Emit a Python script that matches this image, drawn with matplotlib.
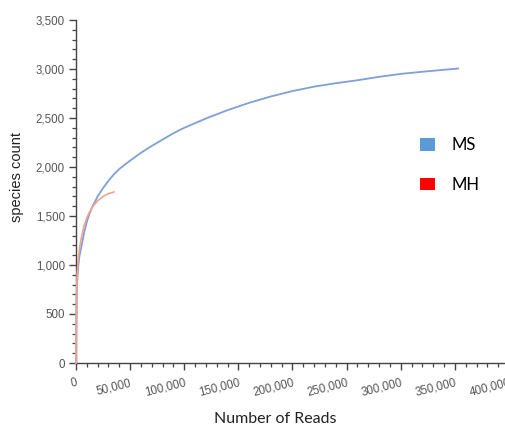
import matplotlib
matplotlib.use("Agg")
import matplotlib.pyplot as plt
from matplotlib.patches import Patch
from matplotlib.ticker import MultipleLocator, FuncFormatter

# rarefaction curves
ms_reads = [0, 200, 500, 1000, 2000, 3000, 5000, 7500, 10000, 12500, 15000, 20000,
            25000, 30000, 35000, 40000, 50000, 60000, 70000, 80000, 90000, 100000,
            120000, 140000, 160000, 180000, 200000, 220000, 240000, 260000, 280000,
            300000, 320000, 340000, 353000]
ms_species = [0, 350, 600, 800, 980, 1080, 1190, 1330, 1440, 1525, 1590, 1700,
              1785, 1860, 1925, 1980, 2065, 2145, 2215, 2280, 2345, 2400,
              2495, 2580, 2655, 2720, 2775, 2820, 2855, 2885, 2920,
              2950, 2972, 2992, 3005]
mh_reads = [0, 200, 500, 1000, 2000, 3700, 5000, 7500, 10000, 12000, 15000, 20000,
            25000, 30000, 35000]
mh_species = [0, 400, 700, 900, 1060, 1200, 1280, 1400, 1480, 1530, 1590, 1655,
              1700, 1728, 1745]

legend_names = ["MS", "MH"]
legend_colors = ["#5b9bd5", "#ff0000"]

fig = plt.figure(figsize=(5.06, 4.28), dpi=100)
ax = fig.add_axes([76/506, 65/428, 433/506, 343/428])

ax.plot(ms_reads, ms_species, color="#7f9fd8", lw=1.3, clip_on=False, zorder=3)
ax.plot(mh_reads, mh_species, color="#f2a38f", lw=1.2, clip_on=False, zorder=3)

ax.set_xlim(0, 400000)
ax.set_ylim(0, 3500)
ax.xaxis.set_major_locator(MultipleLocator(50000))
ax.xaxis.set_minor_locator(MultipleLocator(10000))
ax.yaxis.set_major_locator(MultipleLocator(500))
ax.yaxis.set_minor_locator(MultipleLocator(100))
fmt = FuncFormatter(lambda v, p: f"{int(v):,}")
ax.xaxis.set_major_formatter(fmt)
ax.yaxis.set_major_formatter(fmt)

for s in ["top", "right"]:
    ax.spines[s].set_visible(False)
for s in ["left", "bottom"]:
    ax.spines[s].set_color("#444444")
    ax.spines[s].set_linewidth(1.0)

ax.tick_params(which="major", length=5, width=1, color="#444444",
               labelsize=8.3, labelcolor="#555555", pad=3)
ax.tick_params(which="minor", length=3, width=0.9, color="#444444")
ax.tick_params(axis="x", which="major", pad=5)
for lab in ax.get_xticklabels():
    lab.set_rotation(14)
    lab.set_ha("right")
    lab.set_rotation_mode("anchor")
for lab in ax.get_xticklabels() + ax.get_yticklabels():
    lab.set_family("Liberation Sans")

fig.text(17/506, 1 - 177/428, "species count", rotation=90, ha="center", va="center",
         fontsize=10.5, family="Liberation Sans", color="#222222")
fig.text(275/506, 1 - 419/428, "Number of Reads", ha="center", va="center",
         fontsize=11.5, family="Lato", color="#222222")

handles = [Patch(facecolor=c, edgecolor="none") for c in legend_colors]
fig.legend(handles, legend_names, loc="center left", bbox_to_anchor=(405/506, 1 - 165/428),
           frameon=False, prop={"family": "Lato", "size": 12}, handlelength=0.9,
           handleheight=0.8, labelspacing=1.4, handletextpad=1.0)

fig.savefig("out.png", dpi=100)
